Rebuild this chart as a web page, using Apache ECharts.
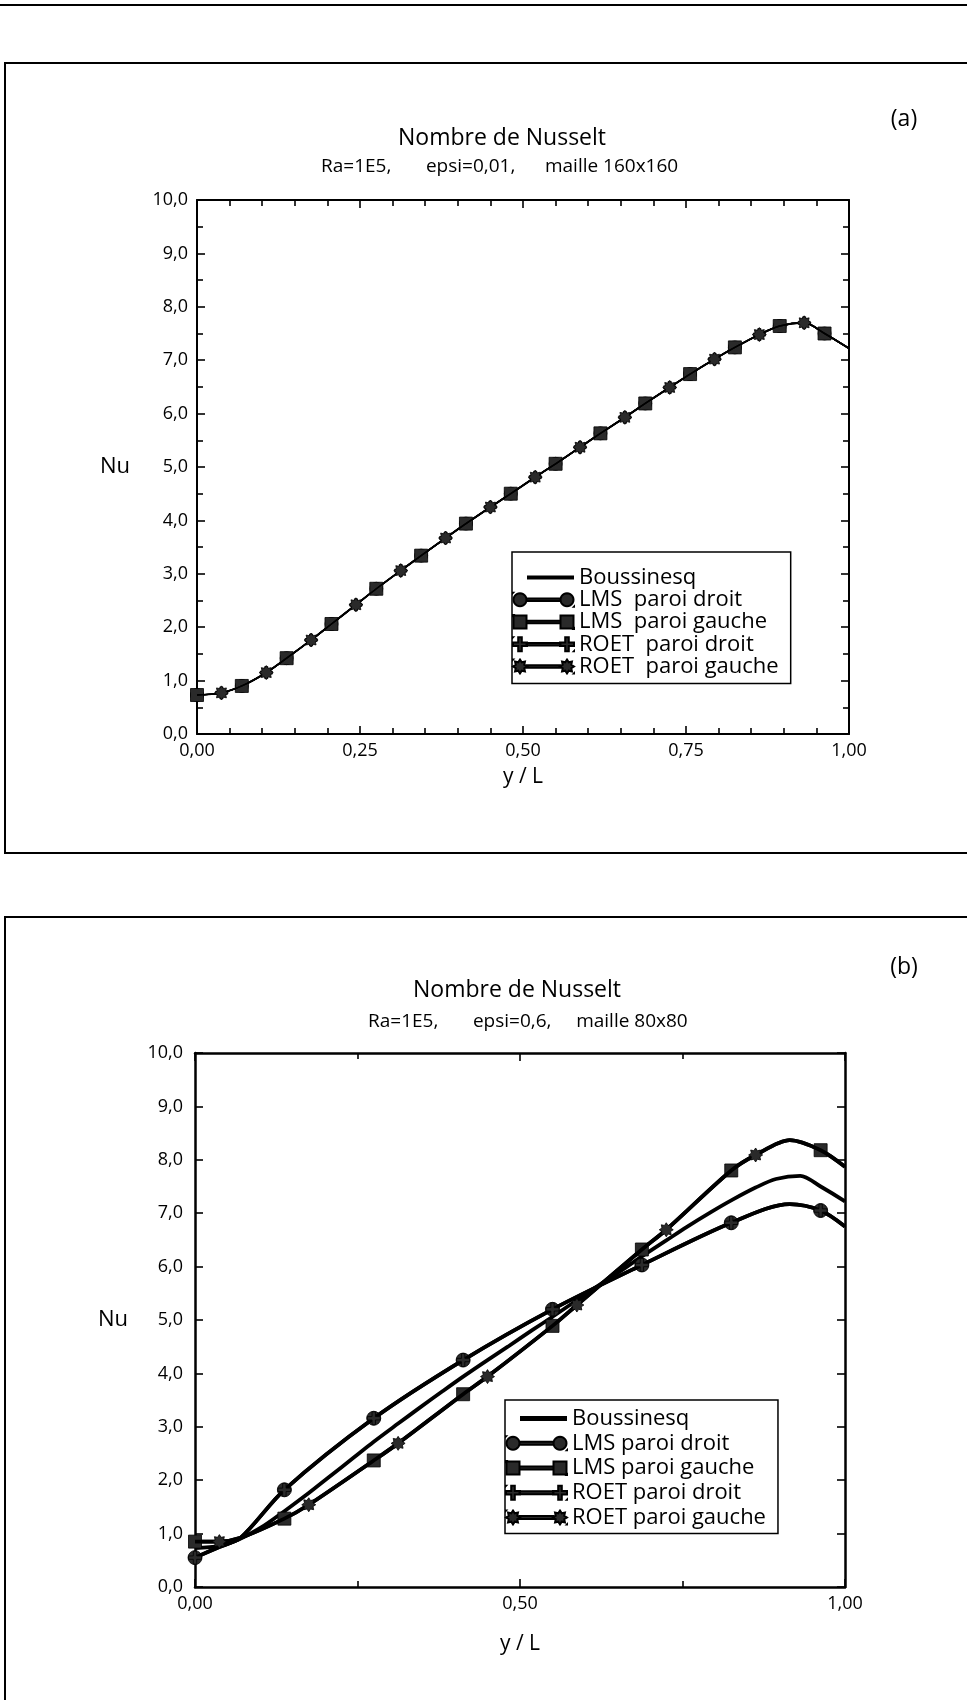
<!DOCTYPE html>
<html><head><meta charset="utf-8">
<script src="https://cdn.jsdelivr.net/npm/echarts@6/dist/echarts.min.js"></script>
<style>
html,body{margin:0;padding:0;background:#fff;}
#a,#b{position:absolute;left:0;top:0;width:967px;height:1700px;}
</style>
</head><body>
<div id="a"></div><div id="b"></div>
<script>
// ---------- DATA ----------
// Panel (a): Ra=1E5, epsi=0,01, maille 160x160 (all solutions coincide)
const yL_A = [0, 0.0375, 0.06875, 0.10625, 0.1375, 0.175, 0.20625, 0.24375, 0.275, 0.3125, 0.34375, 0.38125, 0.4125, 0.45, 0.48125, 0.51875, 0.55, 0.5875, 0.61875, 0.65625, 0.6875, 0.725, 0.75625, 0.79375, 0.825, 0.8625, 0.89375, 0.93125, 0.9625, 1.0];
const nu_A  = [0.73, 0.77, 0.90, 1.15, 1.42, 1.76, 2.06, 2.42, 2.72, 3.06, 3.34, 3.67, 3.94, 4.25, 4.50, 4.81, 5.06, 5.37, 5.63, 5.93, 6.19, 6.49, 6.74, 7.02, 7.24, 7.48, 7.64, 7.70, 7.50, 7.22];
const marksLMS_A  = [0, 0.06875, 0.1375, 0.20625, 0.275, 0.34375, 0.4125, 0.48125, 0.55, 0.61875, 0.6875, 0.75625, 0.825, 0.89375, 0.9625];
const marksROET_A = [0.0375, 0.10625, 0.175, 0.24375, 0.3125, 0.38125, 0.45, 0.51875, 0.5875, 0.65625, 0.725, 0.79375, 0.8625, 0.93125];

// Panel (b): Ra=1E5, epsi=0,6, maille 80x80
const yL_Bous = yL_A;
const nu_Bous = nu_A;
const yL_droit = [0, 0.0375, 0.07, 0.1375, 0.275, 0.4125, 0.55, 0.6875, 0.825, 0.915, 0.9625, 1.0];
const nu_droit = [0.55, 0.75, 0.92, 1.82, 3.16, 4.25, 5.20, 6.03, 6.82, 7.17, 7.05, 6.75];
const yL_gauche = [0, 0.0375, 0.07, 0.1375, 0.175, 0.275, 0.3125, 0.4125, 0.45, 0.55, 0.5875, 0.6875, 0.725, 0.825, 0.8625, 0.915, 0.9625, 1.0];
const nu_gauche = [0.85, 0.85, 0.92, 1.28, 1.54, 2.37, 2.69, 3.61, 3.94, 4.89, 5.28, 6.32, 6.69, 7.80, 8.09, 8.37, 8.18, 7.87];
const marksLMS_B  = [0, 0.1375, 0.275, 0.4125, 0.55, 0.6875, 0.825, 0.9625];
const marksROET_B = [0.0375, 0.175, 0.3125, 0.45, 0.5875, 0.725, 0.8625];

// Tick labels
const xTicksA = [0, 0.25, 0.5, 0.75, 1.0];
const xTicksB = [0, 0.5, 1.0];
const yTicks = [0,1,2,3,4,5,6,7,8,9,10];

// Texts
const NB = '\u00a0';
const TITLE = 'Nombre de Nusselt';
const SUB_A = 'Ra=1E5,' + NB.repeat(7) + 'epsi=0,01,' + NB.repeat(6) + 'maille 160x160';
const SUB_B = 'Ra=1E5,' + NB.repeat(7) + 'epsi=0,6,' + NB.repeat(5) + 'maille 80x80';
const NAMES_A = ['Boussinesq', 'LMS  paroi droit', 'LMS  paroi gauche', 'ROET  paroi droit', 'ROET  paroi gauche'];
const NAMES_B = ['Boussinesq', 'LMS paroi droit', 'LMS paroi gauche', 'ROET paroi droit', 'ROET paroi gauche'];

// ---------- SHAPES ----------
const FONT = 'Open Sans';
function poly(pts){ return pts.map((p,i)=>(i?'L':'M')+p[0].toFixed(2)+','+p[1].toFixed(2)).join(' ')+' Z '; }
function circlePts(cx,cy,r){ const a=[]; for(let i=0;i<24;i++){const t=2*Math.PI*i/24; a.push([cx+r*Math.cos(t), cy+r*Math.sin(t)]);} return a; }
function starPts(cx,cy,R,r,n){ const a=[]; for(let i=0;i<2*n;i++){const t=Math.PI*i/n - Math.PI/2; const rr=i%2?r:R; a.push([cx+rr*Math.cos(t), cy+rr*Math.sin(t)]);} return a; }
function squarePts(cx,cy,h){ return [[cx-h,cy-h],[cx+h,cy-h],[cx+h,cy+h],[cx-h,cy+h]]; }
function plusPts(cx,cy,h,w){ return [[cx-w,cy-h],[cx+w,cy-h],[cx+w,cy-w],[cx+h,cy-w],[cx+h,cy+w],[cx+w,cy+w],[cx+w,cy+h],[cx-w,cy+h],[cx-w,cy+w],[cx-h,cy+w],[cx-h,cy-w],[cx-w,cy-w]]; }
const shapeFns = {
  circle: (cx,cy)=>poly(circlePts(cx,cy,6.5)),
  square: (cx,cy)=>poly(squarePts(cx,cy,6.5)),
  plus:   (cx,cy)=>poly(plusPts(cx,cy,7,1.8)),
  star:   (cx,cy)=>poly(starPts(cx,cy,7,4.6,8))
};
const SYM = {
  circle: 'circle',
  square: 'rect',
  plus: 'path://' + poly(plusPts(10,10,10,2.6)),
  star: 'path://' + poly(starPts(10,10,10,6.6,8))
};
const SPECK = 'M0,0 L0.01,0 L0,0.01 Z M61,14 L60.99,14 L61,13.99 Z ';
function pairIcon(shape, bar){
  const b = poly([[13.5,7-bar],[47.5,7-bar],[47.5,7+bar],[13.5,7+bar]]);
  return 'path://' + SPECK + shapeFns[shape](7,7) + b + shapeFns[shape](54,7);
}
function lineIcon(bar){
  return 'path://' + SPECK + poly([[14,7-bar],[61,7-bar],[61,7+bar],[14,7+bar]]);
}

function mkData(xs, ys, marks){
  return xs.map((x,i)=>{
    const it = {value:[x, ys[i]]};
    if (!marks || marks.indexOf(x) < 0) it.symbol = 'none';
    return it;
  });
}
const comma = (v,d)=>v.toFixed(d).replace('.', ',');

function axesFor(cfg){
  const lbl = {fontFamily:FONT, fontSize:18, color:'#000'};
  const line = {show:true, onZero:false, lineStyle:{color:'#000', width:cfg.lw}};
  const tick = {show:true, inside:true, length:8, lineStyle:{color:'#000', width:1.6}};
  const minor = (n)=>({show:n>1, splitNumber:n, length:6, lineStyle:{color:'#000', width:1.6}});
  const xBase = ()=>({type:'value', gridIndex:0, min:0, max:1, interval:cfg.xInt, axisLine:line, splitLine:{show:false}, axisTick:tick, minorTick:minor(cfg.xMinor), minorSplitLine:{show:false}});
  const yBase = ()=>({type:'value', gridIndex:0, min:0, max:10, interval:1, axisLine:line, splitLine:{show:false}, axisTick:tick, minorTick:minor(cfg.yMinor), minorSplitLine:{show:false}});
  const xAxes = [
    Object.assign(xBase(), {position:'bottom',
      axisLabel:Object.assign({show:true, margin:8, formatter:v=>cfg.xTicks.indexOf(v)>=0?comma(v,2):''}, lbl),
      name:'y / L', nameLocation:'middle', nameGap:cfg.xNameGap,
      nameTextStyle:{fontFamily:FONT, fontSize:21, color:'#000'}}),
    Object.assign(xBase(), {position:'top', axisLabel:{show:false}})
  ];
  const yAxes = [
    Object.assign(yBase(), {position:'left',
      axisLabel:Object.assign({show:true, margin:cfg.yMargin, formatter:v=>yTicks.indexOf(v)>=0?comma(v,1):''}, lbl),
      name:'Nu', nameLocation:'middle', nameRotate:0, nameGap:67,
      nameTextStyle:{fontFamily:FONT, fontSize:22, color:'#000'}}),
    Object.assign(yBase(), {position:'right', axisLabel:{show:false}})
  ];
  return {xAxes, yAxes};
}

function frameText(x,y,text,size,align){
  return {type:'text', x, y, style:{text, fontFamily:FONT, fontSize:size, fill:'#000', align:align||'center', verticalAlign:'middle'}};
}
function hline(x1,x2,y,w){ return {type:'line', shape:{x1,y1:y,x2,y2:y}, style:{stroke:'#000', lineWidth:w||2}}; }
function vline(x,y1,y2,w){ return {type:'line', shape:{x1:x,y1,x2:x,y2}, style:{stroke:'#000', lineWidth:w||2}}; }

const mstyle = {color:'#2a2a2a', borderColor:'#000', borderWidth:0.8};
function lineSeries(name, xs, ys, marks, sym, size, width, z){
  return {name, type:'line', xAxisIndex:0, yAxisIndex:0, data:mkData(xs, ys, marks),
    symbol:sym, symbolSize:size, showAllSymbol:true, smooth:0.3,
    lineStyle:{color:'#000', width}, itemStyle: sym==='none'?{color:'#000'}:mstyle, z};
}
function legendCfg(left, top, names, padding, gap, bar, lw){
  return {
    left, top, orient:'vertical', itemWidth:61, itemHeight:14, itemGap:gap,
    padding, borderColor:'#000', borderWidth:1.5, backgroundColor:'#fff',
    textStyle:{fontFamily:FONT, fontSize:22, color:'#000', lineHeight:21},
    data:[
      {name:names[0], icon:lineIcon(lw)},
      {name:names[1], icon:pairIcon('circle',bar)},
      {name:names[2], icon:pairIcon('square',bar)},
      {name:names[3], icon:pairIcon('plus',bar)},
      {name:names[4], icon:pairIcon('star',bar)}
    ],
    selectedMode:false
  };
}

// ---------- CHART A ----------
const axA = axesFor({xInt:0.25, xMinor:5, yMinor:2, lw:2, xTicks:xTicksA, xNameGap:33, yMargin:9});
const chartA = echarts.init(document.getElementById('a'), null, {renderer:'canvas'});
chartA.setOption({
  animation:false,
  backgroundColor:'transparent',
  grid:[{left:197, top:200, width:652, height:534, outerBoundsMode:'none', containLabel:false}],
  xAxis: axA.xAxes,
  yAxis: axA.yAxes,
  legend: legendCfg(512, 552, NAMES_A, [14.5,12,6,0], 0.25, 1.3, 2),
  series:[
    lineSeries(NAMES_A[0], yL_A, nu_A, null, 'none', 0, 2, 2),
    lineSeries(NAMES_A[1], yL_A, nu_A, marksLMS_A, SYM.circle, 13, 1.5, 3),
    lineSeries(NAMES_A[2], yL_A, nu_A, marksLMS_A, SYM.square, 13, 1.5, 4),
    lineSeries(NAMES_A[3], yL_A, nu_A, marksROET_A, SYM.plus, 12, 1.5, 5),
    lineSeries(NAMES_A[4], yL_A, nu_A, marksROET_A, SYM.star, 14, 1.5, 6)
  ],
  graphic:[
    hline(0,967,5,2),
    hline(4,967,63,2), vline(5,62,854,2), hline(4,967,853,2),
    frameText(398,138,TITLE,23,'left'),
    frameText(321,167,SUB_A,19,'left'),
    frameText(904,119,'(a)',23)
  ]
});

// ---------- CHART B ----------
const axB = axesFor({xInt:0.5, xMinor:2, yMinor:1, lw:2.5, xTicks:xTicksB, xNameGap:47, yMargin:12});
const chartB = echarts.init(document.getElementById('b'), null, {renderer:'canvas'});
chartB.setOption({
  animation:false,
  backgroundColor:'transparent',
  grid:[{left:195, top:1053, width:650, height:534, outerBoundsMode:'none', containLabel:false}],
  xAxis: axB.xAxes,
  yAxis: axB.yAxes,
  legend: legendCfg(505, 1400, NAMES_B, [7.5,12,5,0], 2.75, 1.6, 2.5),
  series:[
    lineSeries(NAMES_B[0], yL_Bous, nu_Bous, null, 'none', 0, 3.8, 2),
    lineSeries(NAMES_B[1], yL_droit, nu_droit, marksLMS_B, SYM.circle, 14, 3.8, 3),
    lineSeries(NAMES_B[2], yL_gauche, nu_gauche, marksLMS_B, SYM.square, 13, 3.8, 4),
    lineSeries(NAMES_B[3], yL_droit, nu_droit, marksLMS_B, SYM.plus, 13, 3.8, 5),
    lineSeries(NAMES_B[4], yL_gauche, nu_gauche, marksROET_B, SYM.star, 14, 3.8, 6)
  ],
  graphic:[
    hline(4,967,917,2), vline(5,916,1700,2),
    frameText(413,990,TITLE,23,'left'),
    frameText(368,1022,SUB_B,19,'left'),
    frameText(904,967,'(b)',23)
  ]
});
</script>
</body></html>
